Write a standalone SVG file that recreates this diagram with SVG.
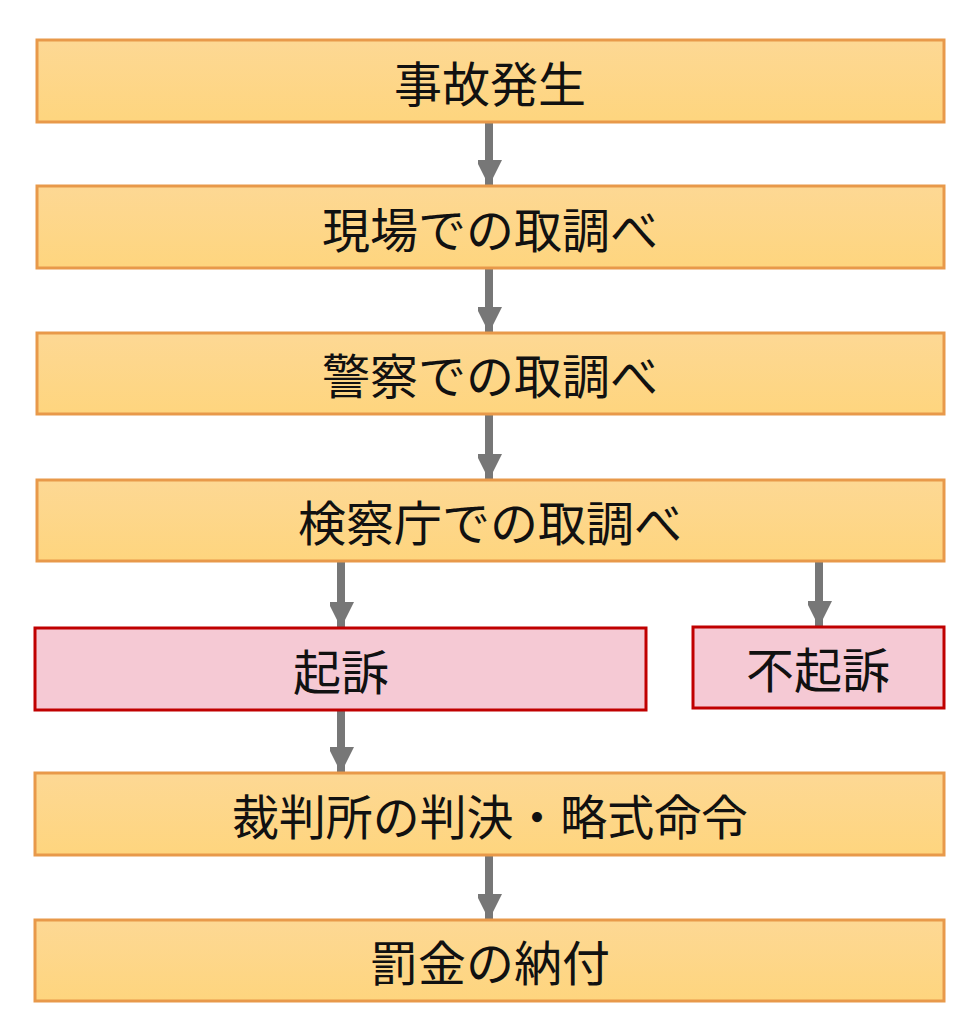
<svg xmlns="http://www.w3.org/2000/svg" width="966" height="1024" viewBox="0 0 966 1024">
<style>
.o{fill:url(#g);stroke:#E8994A;stroke-width:3}
.p{fill:#F5C9D4;stroke:#C00000;stroke-width:3}
text{font-family:"Noto Sans CJK JP","Noto Sans",sans-serif;font-size:48px;fill:#111;text-anchor:middle;dominant-baseline:central}
.c line{stroke:#777;stroke-width:8}
</style>
<defs>
<linearGradient id="g" x1="0" y1="0" x2="0" y2="1"><stop offset="0" stop-color="#FDD894"/><stop offset="1" stop-color="#FED57E"/></linearGradient>
<marker id="a" markerUnits="userSpaceOnUse" markerWidth="28" markerHeight="24" refX="26" refY="13" orient="auto"><path d="M0,0 L26,13 L0,26 Z" fill="#777"/></marker>
</defs>
<g class="c">
<line x1="489" y1="122" x2="489" y2="186" marker-end="url(#a)"/>
<line x1="489" y1="268" x2="489" y2="333" marker-end="url(#a)"/>
<line x1="489" y1="414" x2="489" y2="480" marker-end="url(#a)"/>
<line x1="341" y1="561" x2="341" y2="628" marker-end="url(#a)"/>
<line x1="819" y1="561" x2="819" y2="627" marker-end="url(#a)"/>
<line x1="341" y1="710" x2="341" y2="773" marker-end="url(#a)"/>
<line x1="489" y1="855" x2="489" y2="920" marker-end="url(#a)"/>
</g>
<g id="n1"><rect class="o" x="37" y="40" width="907" height="82"/><text x="490" y="81">事故発生</text></g>
<g id="n2"><rect class="o" x="37" y="186" width="907" height="82"/><text x="490" y="227">現場での取調べ</text></g>
<g id="n3"><rect class="o" x="37" y="333" width="907" height="81"/><text x="490" y="373">警察での取調べ</text></g>
<g id="n4"><rect class="o" x="37" y="480" width="907" height="81"/><text x="490" y="520">検察庁での取調べ</text></g>
<g id="n5"><rect class="p" x="35" y="628" width="611" height="82"/><text x="341" y="669">起訴</text></g>
<g id="n6"><rect class="p" x="693" y="627" width="251" height="81"/><text x="818" y="667">不起訴</text></g>
<g id="n7"><rect class="o" x="35" y="773" width="909" height="82"/><text x="490" y="814" textLength="516" lengthAdjust="spacingAndGlyphs">裁判所の判決・略式命令</text></g>
<g id="n8"><rect class="o" x="35" y="920" width="909" height="81"/><text x="490" y="960">罰金の納付</text></g>
</svg>
